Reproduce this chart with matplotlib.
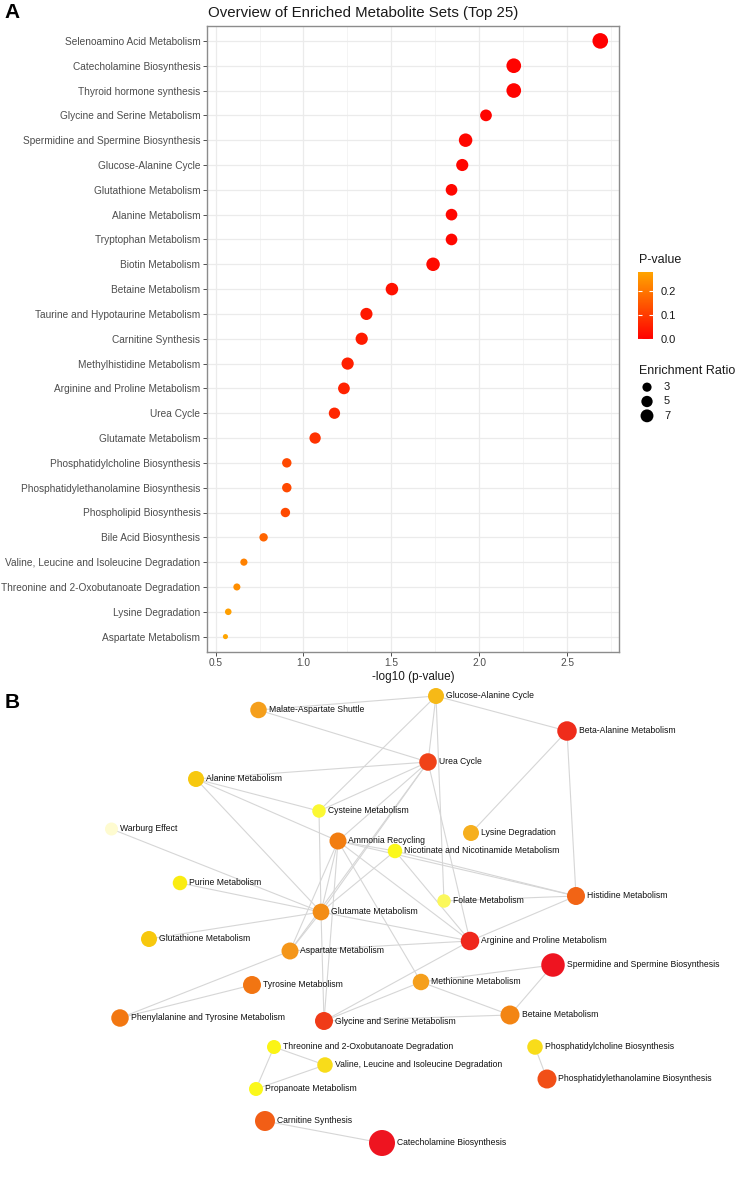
import numpy as np
import matplotlib
matplotlib.use("Agg")
from matplotlib import pyplot as plt
from matplotlib.colors import LinearSegmentedColormap, Normalize
from matplotlib.cm import ScalarMappable
from matplotlib.ticker import MultipleLocator

plt.rcParams['font.family'] = ['Liberation Sans', 'DejaVu Sans']

# ---- panel A: top 25 enriched metabolite sets
sets = ["Selenoamino Acid Metabolism", "Catecholamine Biosynthesis", "Thyroid hormone synthesis",
        "Glycine and Serine Metabolism", "Spermidine and Spermine Biosynthesis", "Glucose-Alanine Cycle",
        "Glutathione Metabolism", "Alanine Metabolism", "Tryptophan Metabolism", "Biotin Metabolism",
        "Betaine Metabolism", "Taurine and Hypotaurine Metabolism", "Carnitine Synthesis",
        "Methylhistidine Metabolism", "Arginine and Proline Metabolism", "Urea Cycle",
        "Glutamate Metabolism", "Phosphatidylcholine Biosynthesis", "Phosphatidylethanolamine Biosynthesis",
        "Phospholipid Biosynthesis", "Bile Acid Biosynthesis", "Valine, Leucine and Isoleucine Degradation",
        "Threonine and 2-Oxobutanoate Degradation", "Lysine Degradation", "Aspartate Metabolism"]
neglogp = [2.688, 2.196, 2.196, 2.038, 1.922, 1.903, 1.842, 1.842, 1.842, 1.737,
           1.503, 1.358, 1.331, 1.251, 1.230, 1.176, 1.066, 0.905, 0.905, 0.897,
           0.773, 0.661, 0.621, 0.572, 0.556]
ratio = [11.5, 9.8, 9.8, 5.5, 7.9, 6.0, 5.4, 5.4, 5.4, 7.9,
         6.5, 6.0, 6.1, 6.1, 5.5, 5.0, 5.0, 3.2, 3.2, 3.2,
         2.5, 1.9, 1.85, 1.7, 1.5]
legend_ratio = [3, 5, 7]
pv_breaks = [0.0, 0.1, 0.2]

# ---- panel B: metabolite set network
nodes = ["Glucose-Alanine Cycle", "Malate-Aspartate Shuttle", "Beta-Alanine Metabolism", "Urea Cycle",
         "Alanine Metabolism", "Cysteine Metabolism", "Warburg Effect", "Lysine Degradation",
         "Ammonia Recycling", "Nicotinate and Nicotinamide Metabolism", "Purine Metabolism",
         "Histidine Metabolism", "Folate Metabolism", "Glutamate Metabolism", "Glutathione Metabolism",
         "Arginine and Proline Metabolism", "Aspartate Metabolism", "Spermidine and Spermine Biosynthesis",
         "Tyrosine Metabolism", "Methionine Metabolism", "Phenylalanine and Tyrosine Metabolism",
         "Glycine and Serine Metabolism", "Betaine Metabolism", "Threonine and 2-Oxobutanoate Degradation",
         "Valine, Leucine and Isoleucine Degradation", "Phosphatidylcholine Biosynthesis",
         "Propanoate Metabolism", "Phosphatidylethanolamine Biosynthesis", "Carnitine Synthesis",
         "Catecholamine Biosynthesis"]
node_x = [436, 258.5, 567, 428, 196, 319, 111.5, 471, 338, 395, 180, 576, 444, 321, 149,
          470, 290, 553, 252, 421, 120, 324, 510, 274, 325, 535, 256, 547, 265, 382]
node_y = [696, 710, 731, 762, 779, 811, 829, 833, 841, 851, 883, 896, 901, 912, 939,
          941, 951, 965, 985, 982, 1018, 1021, 1015, 1047, 1065, 1047, 1089, 1079, 1121, 1143]
node_size = [16, 16.5, 19.5, 17.5, 16, 13.5, 13, 16, 17, 14.5, 14.5, 18, 13.5, 16.7, 16,
             18.5, 17, 23.5, 18, 16.5, 17.5, 18, 19, 14, 15.5, 15.5, 14, 19, 20, 26]
node_score = [0.54, 0.44, 0.06, 0.12, 0.6, 0.9, 1.0, 0.5, 0.3, 0.88, 0.8, 0.22, 0.93, 0.36, 0.6,
              0.05, 0.4, 0.0, 0.27, 0.44, 0.28, 0.1, 0.33, 0.85, 0.7, 0.7, 0.88, 0.16, 0.2, 0.0]
edges = [
    ("Malate-Aspartate Shuttle", "Glucose-Alanine Cycle"),
    ("Malate-Aspartate Shuttle", "Urea Cycle"),
    ("Glucose-Alanine Cycle", "Beta-Alanine Metabolism"),
    ("Glucose-Alanine Cycle", "Urea Cycle"),
    ("Glucose-Alanine Cycle", "Cysteine Metabolism"),
    ("Glucose-Alanine Cycle", "Folate Metabolism"),
    ("Beta-Alanine Metabolism", "Lysine Degradation"),
    ("Beta-Alanine Metabolism", "Histidine Metabolism"),
    ("Urea Cycle", "Alanine Metabolism"),
    ("Urea Cycle", "Cysteine Metabolism"),
    ("Urea Cycle", "Ammonia Recycling"),
    ("Urea Cycle", "Glutamate Metabolism"),
    ("Urea Cycle", "Aspartate Metabolism"),
    ("Urea Cycle", "Arginine and Proline Metabolism"),
    ("Alanine Metabolism", "Cysteine Metabolism"),
    ("Alanine Metabolism", "Ammonia Recycling"),
    ("Alanine Metabolism", "Glutamate Metabolism"),
    ("Cysteine Metabolism", "Glutamate Metabolism"),
    ("Warburg Effect", "Glutamate Metabolism"),
    ("Ammonia Recycling", "Nicotinate and Nicotinamide Metabolism"),
    ("Ammonia Recycling", "Glutamate Metabolism"),
    ("Ammonia Recycling", "Aspartate Metabolism"),
    ("Ammonia Recycling", "Glycine and Serine Metabolism"),
    ("Ammonia Recycling", "Arginine and Proline Metabolism"),
    ("Ammonia Recycling", "Histidine Metabolism"),
    ("Ammonia Recycling", "Methionine Metabolism"),
    ("Nicotinate and Nicotinamide Metabolism", "Histidine Metabolism"),
    ("Nicotinate and Nicotinamide Metabolism", "Glutamate Metabolism"),
    ("Nicotinate and Nicotinamide Metabolism", "Arginine and Proline Metabolism"),
    ("Purine Metabolism", "Glutamate Metabolism"),
    ("Folate Metabolism", "Histidine Metabolism"),
    ("Histidine Metabolism", "Arginine and Proline Metabolism"),
    ("Glutamate Metabolism", "Glutathione Metabolism"),
    ("Glutamate Metabolism", "Aspartate Metabolism"),
    ("Glutamate Metabolism", "Arginine and Proline Metabolism"),
    ("Glutamate Metabolism", "Glycine and Serine Metabolism"),
    ("Aspartate Metabolism", "Arginine and Proline Metabolism"),
    ("Aspartate Metabolism", "Phenylalanine and Tyrosine Metabolism"),
    ("Arginine and Proline Metabolism", "Glycine and Serine Metabolism"),
    ("Tyrosine Metabolism", "Phenylalanine and Tyrosine Metabolism"),
    ("Methionine Metabolism", "Spermidine and Spermine Biosynthesis"),
    ("Methionine Metabolism", "Betaine Metabolism"),
    ("Methionine Metabolism", "Glycine and Serine Metabolism"),
    ("Spermidine and Spermine Biosynthesis", "Betaine Metabolism"),
    ("Glycine and Serine Metabolism", "Betaine Metabolism"),
    ("Threonine and 2-Oxobutanoate Degradation", "Valine, Leucine and Isoleucine Degradation"),
    ("Threonine and 2-Oxobutanoate Degradation", "Propanoate Metabolism"),
    ("Valine, Leucine and Isoleucine Degradation", "Propanoate Metabolism"),
    ("Phosphatidylcholine Biosynthesis", "Phosphatidylethanolamine Biosynthesis"),
    ("Carnitine Synthesis", "Catecholamine Biosynthesis"),
]

W, H = 740, 1181
PT = 72 / 100  # points per pixel


def box(l, t, r, b):
    return [l / W, 1 - b / H, (r - l) / W, (b - t) / H]


def dot_px(er):
    # ggplot-like area scaling of the enrichment ratio
    t = (np.asarray(er, float) - min(ratio)) / (max(ratio) - min(ratio))
    mm = 1 + 5 * np.sqrt(np.clip(t, 0, 1))
    return 2.1 * mm + 3.0


fig = plt.figure(figsize=(W / 100, H / 100), dpi=100)

# ---------------- panel A
ax = fig.add_axes(box(206.7, 26, 619, 651.5))
pv = 10 ** -np.array(neglogp)
cmap = LinearSegmentedColormap.from_list('pv', ['#FF0000', '#FFA500'])
norm = Normalize(pv.min(), pv.max())
ypos = np.arange(len(sets))
ax.scatter(neglogp, ypos, s=(dot_px(ratio) * PT) ** 2, c=pv, cmap=cmap, norm=norm,
           linewidths=0, zorder=3)
ax.set_yticks(ypos, sets)
ax.set_ylim(len(sets) - 0.4, -0.6)
span = max(neglogp) - min(neglogp)
ax.set_xlim(min(neglogp) - 0.05 * span, max(neglogp) + 0.05 * span)
ax.xaxis.set_major_locator(MultipleLocator(0.5))
ax.xaxis.set_minor_locator(MultipleLocator(0.25))
ax.grid(which='major', color='#EBEBEB', lw=0.9)
ax.grid(which='minor', axis='x', color='#F0F0F0', lw=0.5)
ax.set_axisbelow(True)
ax.tick_params(length=3, width=0.6, color='#333333', labelcolor='#4D4D4D', labelsize=7.3, pad=1.5)
ax.tick_params(which='minor', length=0)
for sp in ax.spines.values():
    sp.set_color('#8C8C8C')
    sp.set_linewidth(1.0)
ax.set_xlabel('-log10 (p-value)', fontsize=8.5, labelpad=2, color='#1A1A1A')
fig.text(208 / W, 1 - 12.5 / H, 'Overview of Enriched Metabolite Sets (Top 25)',
         fontsize=10.8, ha='left', va='center', color='#1A1A1A')

# colour legend
cax = fig.add_axes(box(638.3, 271.7, 653.3, 339.3))
cb = fig.colorbar(ScalarMappable(norm, cmap), cax=cax)
cb.set_ticks([max(b, pv.min()) for b in pv_breaks], labels=[f'{b:.1f}' for b in pv_breaks])
cb.outline.set_visible(False)
cax.yaxis.set_ticks_position('both')
cax.tick_params(color='white', length=3, width=0.8, direction='in', labelsize=8, pad=5,
                labelcolor='#1A1A1A')
fig.text(639 / W, 1 - 260 / H, 'P-value', fontsize=9, va='center', color='#1A1A1A')

# size legend
fig.text(639 / W, 1 - 370.5 / H, 'Enrichment Ratio', fontsize=9, va='center', color='#1A1A1A')
lax = fig.add_axes(box(636, 380, 740, 423))
lax.set_xlim(0, 104)
lax.set_ylim(len(legend_ratio) - 0.5, -0.5)
lax.scatter([11] * len(legend_ratio), range(len(legend_ratio)),
            s=(dot_px(legend_ratio) * PT) ** 2, c='black', linewidths=0)
for i, v in enumerate(legend_ratio):
    lax.text(28, i, str(v), va='center', fontsize=8, color='#1A1A1A')
lax.axis('off')

# ---------------- panel B
heat = LinearSegmentedColormap.from_list('heat', [
    (0.00, '#EE1420'), (0.10, '#F03C18'), (0.20, '#F25E16'), (0.30, '#F27E10'),
    (0.40, '#F4961A'), (0.50, '#F6AE1E'), (0.60, '#F7C80E'), (0.70, '#F8DC1A'),
    (0.80, '#FAEC12'), (0.88, '#FBF818'), (0.93, '#FBF855'), (1.00, '#FEFBD0')])
bx = fig.add_axes(box(0, 680, 740, 1181))
bx.set_xlim(0, W)
bx.set_ylim(H, 680)
bx.axis('off')
idx = {n: i for i, n in enumerate(nodes)}
for a, b in edges:
    i, j = idx[a], idx[b]
    bx.plot([node_x[i], node_x[j]], [node_y[i], node_y[j]], color='#D6D6D6', lw=0.8, zorder=1)
bx.scatter(node_x, node_y, s=(np.array(node_size) * PT) ** 2, c=node_score, cmap=heat,
           vmin=0, vmax=1, linewidths=0, zorder=2)
for n, x, y, d in zip(nodes, node_x, node_y, node_size):
    bx.annotate(n, (x, y), xytext=((d / 2 + 2) * PT, 0), textcoords='offset points',
                va='center', ha='left', fontsize=6.2, color='#111111', zorder=3)

fig.text(4 / W, 1 - 12 / H, 'A', fontsize=15, fontweight='bold', va='center')
fig.text(5 / W, 1 - 703 / H, 'B', fontsize=15, fontweight='bold', va='center')

fig.savefig('out.png', dpi=100)
